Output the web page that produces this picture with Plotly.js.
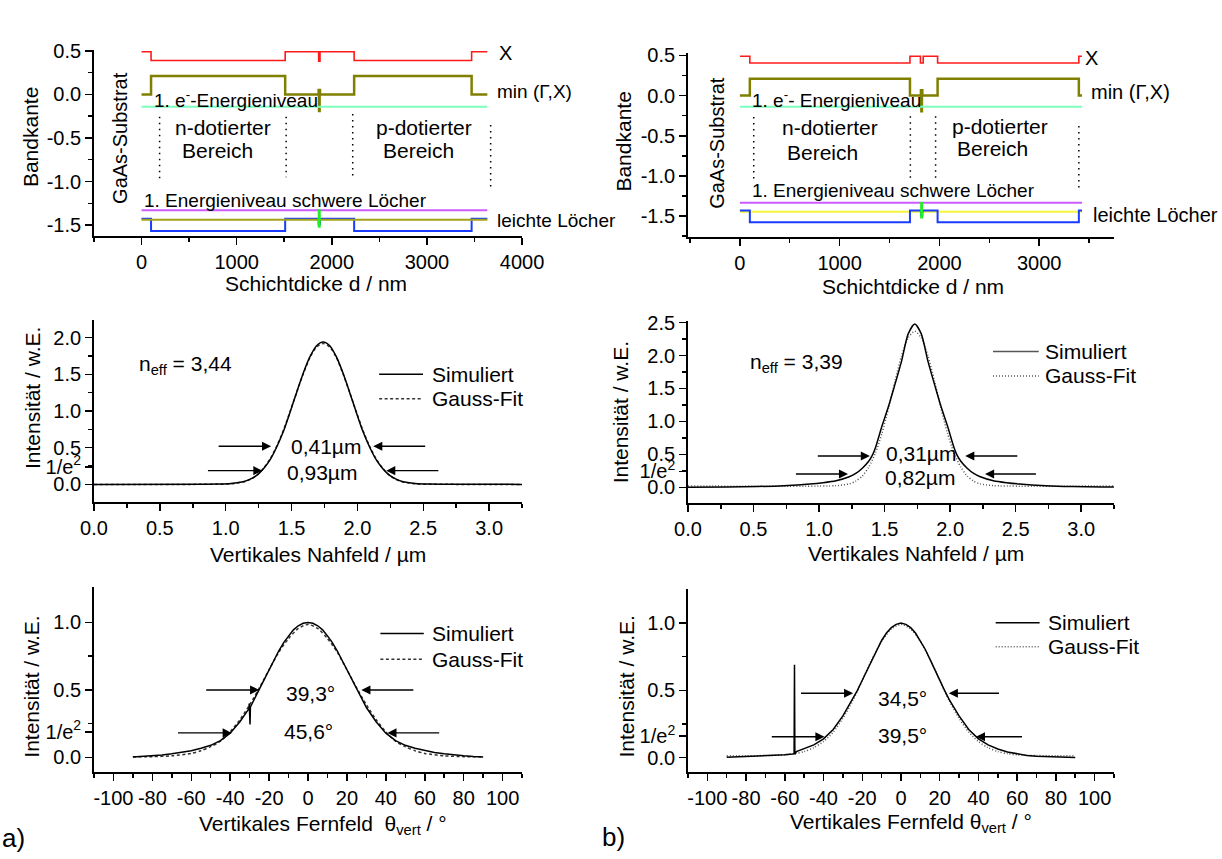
<!DOCTYPE html>
<html><head><meta charset="utf-8">
<script src="https://cdn.plot.ly/plotly-3.0.1.min.js"></script>
<style>html,body{margin:0;padding:0;background:#fff;}#chart{width:1222px;height:859px;}</style>
</head><body><div id="chart"></div>
<script>
// ================= DATA =================
// --- band diagram a) (top left) ---
const bandA_Xx   = [0, 100, 1510, 1862, 1876, 2235, 3470, 3635];
const bandA_X    = [0.49, 0.39, 0.49, 0.38, 0.49, 0.39, 0.49, 0.49];
const bandA_Minx = [0, 100, 1510, 1862, 1866, 1872, 1876, 2235, 3470, 3635];
const bandA_Min  = [0.0, 0.21, 0.0, 0.05, -0.19, 0.05, 0.0, 0.21, 0.0, 0.0];
const bandA_LevX = [0, 3635];
const bandA_e1   = [-0.142, -0.142];
const bandA_hh1  = [-1.33, -1.33];
const bandA_hh   = [-1.438, -1.438];
const bandA_Lhx  = [0, 100, 1510, 1862, 1876, 2235, 3470, 3635];
const bandA_Lh   = [-1.426, -1.568, -1.426, -1.49, -1.426, -1.568, -1.426, -1.426];
const bandA_QWx  = [1868, 1868];
const bandA_QW   = [-1.318, -1.53];
const bandA_divX = [190, 190, null, 1520, 1520, null, 2220, 2220, null, 3670, 3670];
const bandA_divY = [-0.257, -0.97, null, -0.257, -0.952, null, -0.226, -0.937, null, -0.352, -1.078];
// --- band diagram b) (top right) ---
const bandB_Xx   = [0, 100, 1705, 1810, 1838, 1982, 3398, 3430];
const bandB_X    = [0.489, 0.405, 0.489, 0.405, 0.489, 0.405, 0.489, 0.489];
const bandB_Minx = [0, 100, 1705, 1815, 1819, 1825, 1829, 1982, 3398, 3430];
const bandB_Min  = [0.0, 0.211, 0.0, 0.066, -0.195, 0.066, 0.0, 0.211, 0.0, 0.0];
const bandB_LevX = [0, 3430];
const bandB_e1   = [-0.140, -0.140];
const bandB_hh1  = [-1.335, -1.335];
const bandB_hh   = [-1.447, -1.447];
const bandB_Lhx  = [0, 100, 1705, 1815, 1829, 1982, 3398, 3430];
const bandB_Lh   = [-1.43, -1.575, -1.43, -1.49, -1.43, -1.575, -1.43, -1.43];
const bandB_QWx  = [1822, 1822];
const bandB_QW   = [-1.323, -1.53];
const bandB_divX = [139, 139, null, 1709, 1709, null, 1962, 1962, null, 3398, 3398];
const bandB_divY = [-0.265, -1.04, null, -0.257, -1.036, null, -0.257, -1.036, null, -0.38, -1.148];

// --- near field a) ---
const nfA_x   = [0, 0.8, 0.94, 1.04, 1.14, 1.19, 1.24, 1.29, 1.34, 1.39, 1.44, 1.49, 1.54, 1.59, 1.64, 1.69, 1.74, 1.79, 1.84, 1.89, 1.94, 1.99, 2.04, 2.09, 2.14, 2.19, 2.24, 2.29, 2.34, 2.44, 2.54, 2.7, 3.25];
const nfA_sim = [0, 0.001, 0.004, 0.012, 0.04, 0.075, 0.13, 0.22, 0.345, 0.52, 0.73, 0.99, 1.26, 1.52, 1.74, 1.89, 1.94, 1.89, 1.74, 1.52, 1.26, 0.99, 0.73, 0.52, 0.345, 0.22, 0.13, 0.075, 0.04, 0.012, 0.004, 0.001, 0];
const nfA_fitx = [0, 0.94, 1.04, 1.14, 1.19, 1.24, 1.29, 1.34, 1.39, 1.44, 1.49, 1.54, 1.59, 1.64, 1.69, 1.74, 1.79, 1.84, 1.89, 1.94, 1.99, 2.04, 2.09, 2.14, 2.19, 2.24, 2.29, 2.34, 2.44, 2.54, 3.25];
const nfA_fit  = [0, 0.002, 0.008, 0.036, 0.07, 0.13, 0.225, 0.355, 0.53, 0.745, 1.0, 1.26, 1.51, 1.73, 1.87, 1.92, 1.87, 1.73, 1.51, 1.26, 1.0, 0.745, 0.53, 0.355, 0.225, 0.13, 0.07, 0.036, 0.008, 0.002, 0];
// --- near field b) ---
const nfB_x   = [0, 0.3, 0.53, 0.73, 0.93, 1.03, 1.13, 1.23, 1.28, 1.33, 1.38, 1.41, 1.43, 1.48, 1.53, 1.57, 1.63, 1.68, 1.73, 1.78, 1.83, 1.89, 1.93, 1.98, 2.03, 2.05, 2.08, 2.13, 2.18, 2.23, 2.33, 2.43, 2.53, 2.73, 2.93, 3.16, 3.25];
const nfB_sim = [0, 0.005, 0.012, 0.025, 0.05, 0.07, 0.10, 0.16, 0.21, 0.29, 0.40, 0.50, 0.60, 0.93, 1.23, 1.5, 1.92, 2.33, 2.48, 2.33, 1.92, 1.5, 1.23, 0.93, 0.60, 0.50, 0.40, 0.29, 0.21, 0.16, 0.10, 0.07, 0.05, 0.025, 0.012, 0.005, 0.004];
const nfB_fitx = [0, 1.13, 1.23, 1.28, 1.33, 1.38, 1.43, 1.48, 1.53, 1.58, 1.63, 1.68, 1.73, 1.78, 1.83, 1.88, 1.93, 1.98, 2.03, 2.08, 2.13, 2.18, 2.23, 2.33, 3.25];
const nfB_fit  = [0.02, 0.025, 0.052, 0.093, 0.17, 0.31, 0.52, 0.82, 1.20, 1.62, 2.0, 2.27, 2.37, 2.27, 2.0, 1.62, 1.20, 0.82, 0.52, 0.31, 0.17, 0.093, 0.052, 0.025, 0.02];

// --- far field a) ---
const ffA_x   = [-90, -85, -80, -75, -70, -65, -60, -55, -50, -45, -40, -35, -30.4, -30.2, -29.8, -29.6, -27.5, -25, -22.5, -20, -17.5, -15, -12.5, -10, -7.5, -5, -2.5, 0, 2.5, 5, 7.5, 10, 12.5, 15, 17.5, 20, 22.5, 25, 27.5, 30, 35, 40, 45, 50, 55, 60, 65, 70, 75, 80, 85, 90];
const ffA_sim = [0.004, 0.007, 0.012, 0.018, 0.027, 0.037, 0.05, 0.068, 0.09, 0.125, 0.18, 0.265, 0.36, 0.40, 0.245, 0.375, 0.435, 0.50, 0.575, 0.65, 0.72, 0.79, 0.85, 0.90, 0.945, 0.975, 0.994, 1.0, 0.994, 0.975, 0.945, 0.90, 0.85, 0.79, 0.72, 0.65, 0.575, 0.50, 0.435, 0.37, 0.265, 0.18, 0.125, 0.09, 0.068, 0.05, 0.037, 0.027, 0.018, 0.012, 0.007, 0.004];
const ffA_fitx = [-90, -80, -70, -60, -55, -50, -45, -40, -35, -30, -25, -20, -15, -10, -5, 0, 5, 10, 15, 20, 25, 30, 35, 40, 45, 50, 55, 60, 70, 80, 90];
const ffA_fit  = [0.005, 0.006, 0.012, 0.03, 0.05, 0.08, 0.12, 0.19, 0.28, 0.39, 0.515, 0.65, 0.78, 0.88, 0.955, 0.985, 0.955, 0.88, 0.78, 0.65, 0.515, 0.39, 0.28, 0.19, 0.12, 0.08, 0.05, 0.03, 0.012, 0.006, 0.005];
// --- far field b) ---
const ffB_x   = [-90, -80, -70, -60, -56, -55.2, -55.0, -54.8, -54, -50, -45, -40, -35, -30, -27.5, -25, -22.5, -20, -17.5, -15, -12.5, -10, -7.5, -5, -2.5, 0, 2.5, 5, 7.5, 10, 12.5, 15, 17.5, 20, 22.5, 25, 27.5, 30, 35, 40, 45, 50, 55, 60, 65, 70, 80, 90];
const ffB_sim = [0.003, 0.008, 0.014, 0.022, 0.028, 0.03, 0.69, 0.025, 0.045, 0.065, 0.095, 0.14, 0.21, 0.31, 0.37, 0.43, 0.50, 0.575, 0.65, 0.73, 0.805, 0.87, 0.925, 0.965, 0.99, 1.0, 0.99, 0.965, 0.925, 0.87, 0.805, 0.73, 0.65, 0.575, 0.50, 0.43, 0.37, 0.31, 0.21, 0.14, 0.095, 0.065, 0.042, 0.027, 0.017, 0.01, 0.004, 0.002];
const ffB_fitx = [-90, -80, -70, -60, -55, -50, -45, -40, -35, -30, -25, -20, -15, -10, -5, 0, 5, 10, 15, 20, 25, 30, 35, 40, 45, 50, 55, 60, 70, 80, 90];
const ffB_fit  = [0.015, 0.015, 0.016, 0.021, 0.03, 0.045, 0.075, 0.12, 0.19, 0.293, 0.42, 0.574, 0.73, 0.863, 0.955, 0.99, 0.955, 0.863, 0.73, 0.574, 0.42, 0.293, 0.19, 0.12, 0.075, 0.045, 0.03, 0.021, 0.016, 0.015, 0.015];

// --- labels and ticks ---
const seriesNames = ['Simuliert', 'Gauss-Fit'];
const bandXTicksA = [0, 1000, 2000, 3000, 4000];
const bandXTicksB = [0, 1000, 2000, 3000];
const bandYTicks = [-1.5, -1.0, -0.5, 0.0, 0.5];
const bandYText  = ['-1.5', '-1.0', '-0.5', '0.0', '0.5'];
const nfXTicks = [0, 0.5, 1.0, 1.5, 2.0, 2.5, 3.0];
const nfXText  = ['0.0', '0.5', '1.0', '1.5', '2.0', '2.5', '3.0'];
const nfYTicksA = [0, 0.24, 0.5, 1.0, 1.5, 2.0];
const nfYTextA  = ['0.0', '1/e<sup>2</sup>', '0.5', '1.0', '1.5', '2.0'];
const nfYTicksB = [0, 0.24, 0.5, 1.0, 1.5, 2.0, 2.5];
const nfYTextB  = ['0.0', '1/e<sup>2</sup>', '0.5', '1.0', '1.5', '2.0', '2.5'];
const ffXTicks = [-100, -80, -60, -40, -20, 0, 20, 40, 60, 80, 100];
const ffXText  = ['-100', '-80', '-60', '-40', '-20', '0', '20', '40', '60', '80', '100'];
const ffYTicksA = [0, 0.19, 0.5, 1.0];
const ffYTicksB = [0, 0.16, 0.5, 1.0];
const ffYText   = ['0.0', '1/e<sup>2</sup>', '0.5', '1.0'];
const ffYMinor  = [0.25, 0.75];

// ================= STYLE HELPERS =================
const FONT = 'Liberation Sans, Arial, Helvetica, sans-serif';
function ax(o) {
  return Object.assign({
    showline: true, linecolor: '#000', linewidth: 1.8, ticks: 'outside', ticklen: 7, tickwidth: 1.5,
    tickcolor: '#000', showgrid: false, zeroline: false, automargin: false, fixedrange: true,
    tickmode: 'array', tickfont: {family: FONT, size: 20, color: '#000'}
  }, o);
}
function minorLin(t0, dt) { return {ticks: 'outside', ticklen: 4, tickwidth: 1.5, tickcolor: '#000', tick0: t0, dtick: dt, showgrid: false}; }
function minorArr(v) { return {ticks: 'outside', ticklen: 4, tickwidth: 1.5, tickcolor: '#000', tickmode: 'array', tickvals: v, showgrid: false}; }

function band(x, y, xa, ya, color, w, shape) {
  return {x: x, y: y, xaxis: xa, yaxis: ya, mode: 'lines', line: {color: color, width: w, shape: shape || 'hv'}, hoverinfo: 'skip', showlegend: false};
}
function curve(x, y, xa, ya, dash, color, sm, name) {
  return {x: x, y: y, xaxis: xa, yaxis: ya, mode: 'lines', name: name,
    line: {color: color, width: 1.5, dash: dash, shape: sm ? 'spline' : 'linear', smoothing: 0.7}, hoverinfo: 'skip', showlegend: false};
}

const traces = [
  // band a)
  band(bandA_Xx, bandA_X, 'x', 'y', '#ff1a1a', 1.6),
  band(bandA_Minx, bandA_Min, 'x', 'y', '#808000', 2.5),
  band(bandA_LevX, bandA_e1, 'x', 'y', '#7dffbe', 2),
  band(bandA_LevX, bandA_hh1, 'x', 'y', '#cc5cff', 2),
  band(bandA_Lhx, bandA_Lh, 'x', 'y', '#1a3cff', 2),
  band(bandA_LevX, bandA_hh, 'x', 'y', '#a3a31a', 2),
  band(bandA_QWx, bandA_QW, 'x', 'y', '#22ee22', 3, 'linear'),
  {x: bandA_divX, y: bandA_divY, xaxis: 'x', yaxis: 'y', mode: 'lines', line: {color: '#000', width: 1.5, dash: '1.5px,4.5px'}, hoverinfo: 'skip', showlegend: false},
  // band b)
  band(bandB_Xx, bandB_X, 'x2', 'y2', '#ff1a1a', 1.6),
  band(bandB_Minx, bandB_Min, 'x2', 'y2', '#808000', 2.5),
  band(bandB_LevX, bandB_e1, 'x2', 'y2', '#7dffbe', 2),
  band(bandB_LevX, bandB_hh1, 'x2', 'y2', '#cc5cff', 2),
  band(bandB_LevX, bandB_hh, 'x2', 'y2', '#f5f53a', 2),
  band(bandB_Lhx, bandB_Lh, 'x2', 'y2', '#1a3cff', 2),
  band(bandB_QWx, bandB_QW, 'x2', 'y2', '#22ee22', 3, 'linear'),
  {x: bandB_divX, y: bandB_divY, xaxis: 'x2', yaxis: 'y2', mode: 'lines', line: {color: '#000', width: 1.5, dash: '1.5px,4.5px'}, hoverinfo: 'skip', showlegend: false},
  // near field
  curve(nfA_fitx, nfA_fit, 'x3', 'y3', '3px,2.5px', '#333', true, seriesNames[1]),
  curve(nfA_x, nfA_sim, 'x3', 'y3', 'solid', '#000', true, seriesNames[0]),
  curve(nfB_fitx, nfB_fit, 'x4', 'y4', '1px,2px', '#555', true, seriesNames[1]),
  curve(nfB_x, nfB_sim, 'x4', 'y4', 'solid', '#000', true, seriesNames[0]),
  // far field
  curve(ffA_fitx, ffA_fit, 'x5', 'y5', '3px,2.5px', '#333', true, seriesNames[1]),
  curve(ffA_x, ffA_sim, 'x5', 'y5', 'solid', '#000', false, seriesNames[0]),
  curve(ffB_fitx, ffB_fit, 'x6', 'y6', '1px,2px', '#555', true, seriesNames[1]),
  curve(ffB_x, ffB_sim, 'x6', 'y6', 'solid', '#000', false, seriesNames[0])
];

// ================= ANNOTATIONS =================
const ann = [];
function T(xr, yr, x, y, text, o) {
  ann.push(Object.assign({xref: xr, yref: yr, x: x, y: y, text: text, showarrow: false, xanchor: 'center', yanchor: 'middle',
    font: {family: FONT, size: 21, color: '#000'}}, o || {}));
}
function A(xr, yr, tail, tip) {
  ann.push({xref: xr, yref: yr, axref: xr, ayref: yr, x: tip[0], y: tip[1], ax: tail[0], ay: tail[1], text: '',
    showarrow: true, arrowhead: 2, arrowsize: 1.3, arrowwidth: 1.4, arrowcolor: '#000', standoff: 0, startstandoff: 0});
}
const small = {font: {family: FONT, size: 19, color: '#000'}};
const mid = {font: {family: FONT, size: 20, color: '#000'}};
// band a) texts
T('x', 'y', 2215, 0.92, 'Aktive Zone');
T('x', 'y', 2128, 0.654, 'InGaAs Quantum Well');
T('x', 'y', 3823, 0.47, 'X', mid);
T('x', 'y', 3718, 0.03, 'min (Γ,X)', Object.assign({xanchor: 'left'}, small));
T('x', 'y', 109, -0.057, '1. e<sup>-</sup>-Energieniveau', Object.assign({xanchor: 'left'}, small));
T('x', 'y', 861, -0.378, 'n-dotierter');
T('x', 'y', 794, -0.647, 'Bereich');
T('x', 'y', 2974, -0.378, 'p-dotierter');
T('x', 'y', 2910, -0.647, 'Bereich');
T('x', 'y', -221, -0.505, 'GaAs-Substrat', Object.assign({textangle: -90}, mid));
T('x', 'y', 7, -1.22, '1. Energieniveau schwere Löcher', Object.assign({xanchor: 'left'}, small));
T('x', 'y', 3711, -1.45, 'leichte Löcher', Object.assign({xanchor: 'left'}, small));
// band b) texts
T('x2', 'y2', 1994, 0.945, 'Aktive Zone');
T('x2', 'y2', 1994, 0.675, 'InGaAs Quantum Well');
T('x2', 'y2', 3528, 0.469, 'X', mid);
T('x2', 'y2', 3501, 0.041, 'min (Γ,X)', Object.assign({xanchor: 'left'}, mid));
T('x2', 'y2', 99, -0.041, '1. e<sup>-</sup>- Energieniveau', Object.assign({xanchor: 'left'}, small));
T('x2', 'y2', 904, -0.40, 'n-dotierter');
T('x2', 'y2', 832, -0.713, 'Bereich');
T('x2', 'y2', 2608, -0.38, 'p-dotierter');
T('x2', 'y2', 2537, -0.663, 'Bereich');
T('x2', 'y2', -229, -0.588, 'GaAs-Substrat', Object.assign({textangle: -90}, mid));
T('x2', 'y2', 99, -1.178, '1. Energieniveau schwere Löcher', Object.assign({xanchor: 'left'}, small));
T('x2', 'y2', 3516, -1.48, 'leichte Löcher', Object.assign({xanchor: 'left'}, mid));
// axis titles (paper)
T('paper', 'paper', 0.0249, 0.8409, 'Bandkante', {textangle: -90});
T('paper', 'paper', 0.2586, 0.6705, 'Schichtdicke d / nm');
T('paper', 'paper', 0.5105, 0.835, 'Bandkante', {textangle: -90});
T('paper', 'paper', 0.7475, 0.667, 'Schichtdicke d / nm');
T('paper', 'paper', 0.0262, 0.5366, 'Intensität / w.E.', {textangle: -90});
T('paper', 'paper', 0.2601, 0.3539, 'Vertikales Nahfeld / µm');
T('paper', 'paper', 0.5085, 0.5204, 'Intensität / w.E.', {textangle: -90});
T('paper', 'paper', 0.7492, 0.3559, 'Vertikales Nahfeld / µm');
T('paper', 'paper', 0.0262, 0.2006, 'Intensität / w.E.', {textangle: -90});
T('paper', 'paper', 0.2645, 0.0396, 'Vertikales Fernfeld  θ<sub>vert</sub> / °');
T('paper', 'paper', 0.5130, 0.2006, 'Intensität / w.E.', {textangle: -90});
T('paper', 'paper', 0.7459, 0.0416, 'Vertikales Fernfeld θ<sub>vert</sub> / °');
T('paper', 'paper', 0.0, 0.0241, 'a)', {xanchor: 'left', font: {family: FONT, size: 26, color: '#000'}});
T('paper', 'paper', 0.491, 0.026, 'b)', {xanchor: 'left', font: {family: FONT, size: 26, color: '#000'}});
// near field a)
T('x3', 'y3', 0.33, 1.62, 'n<sub>eff</sub> = 3,44', {xanchor: 'left'});
T('x3', 'y3', 1.761, 0.52, '0,41µm');
T('x3', 'y3', 1.734, 0.16, '0,93µm');
A('x3', 'y3', [0.935, 0.52], [1.345, 0.52]);
A('x3', 'y3', [2.526, 0.52], [2.12, 0.52]);
A('x3', 'y3', [0.854, 0.187], [1.279, 0.187]);
A('x3', 'y3', [2.626, 0.187], [2.219, 0.187]);
T('x3', 'y3', 2.553, 1.50, seriesNames[0], {xanchor: 'left'});
T('x3', 'y3', 2.553, 1.168, seriesNames[1], {xanchor: 'left'});
// near field b)
T('x4', 'y4', 0.455, 1.88, 'n<sub>eff</sub> = 3,39', {xanchor: 'left'});
T('x4', 'y4', 1.776, 0.506, '0,31µm');
T('x4', 'y4', 1.767, 0.152, '0,82µm');
A('x4', 'y4', [0.979, 0.475], [1.388, 0.475]);
A('x4', 'y4', [2.524, 0.475], [2.115, 0.475]);
A('x4', 'y4', [0.812, 0.202], [1.221, 0.202]);
A('x4', 'y4', [2.666, 0.202], [2.266, 0.202]);
T('x4', 'y4', 2.71, 2.06, seriesNames[0], {xanchor: 'left'});
T('x4', 'y4', 2.71, 1.69, seriesNames[1], {xanchor: 'left'});
// far field a)
T('x5', 'y5', 1.1, 0.474, '39,3°');
T('x5', 'y5', 0.5, 0.19, '45,6°');
A('x5', 'y5', [-53.1, 0.5], [-25.1, 0.5]);
A('x5', 'y5', [54.9, 0.5], [27.4, 0.5]);
A('x5', 'y5', [-67.6, 0.182], [-39.2, 0.182]);
A('x5', 'y5', [68.2, 0.182], [40.8, 0.182]);
T('x5', 'y5', 62.8, 0.918, seriesNames[0], {xanchor: 'left'});
T('x5', 'y5', 62.8, 0.728, seriesNames[1], {xanchor: 'left'});
// far field b)
T('x6', 'y6', 1.0, 0.44, '34,5°');
T('x6', 'y6', 1.0, 0.168, '39,5°');
A('x6', 'y6', [-52.4, 0.478], [-24.7, 0.478]);
A('x6', 'y6', [51.4, 0.478], [24.7, 0.478]);
A('x6', 'y6', [-67.5, 0.156], [-39.5, 0.156]);
A('x6', 'y6', [63.3, 0.156], [38.7, 0.156]);
T('x6', 'y6', 75.0, 1.002, seriesNames[0], {xanchor: 'left'});
T('x6', 'y6', 75.0, 0.824, seriesNames[1], {xanchor: 'left'});

// legend sample lines
const shapes = [];
function L(xr, yr, x0, x1, y, dash, color) {
  shapes.push({type: 'line', xref: xr, yref: yr, x0: x0, x1: x1, y0: y, y1: y, line: {color: color, width: 1.5, dash: dash}});
}
L('x3', 'y3', 2.165, 2.498, 1.50, 'solid', '#000');
L('x3', 'y3', 2.165, 2.498, 1.168, '3px,2.5px', '#333');
L('x4', 'y4', 2.327, 2.676, 2.06, 'solid', '#555');
L('x4', 'y4', 2.327, 2.676, 1.69, '1px,2px', '#555');
L('x5', 'y5', 37.2, 59.5, 0.918, 'solid', '#000');
L('x5', 'y5', 37.2, 59.5, 0.728, '3px,2.5px', '#333');
L('x6', 'y6', 48.9, 71.6, 1.002, 'solid', '#000');
L('x6', 'y6', 48.9, 71.6, 0.824, '1px,2px', '#555');

// ================= LAYOUT =================
const colA = [0.0769, 0.4272], colB = [0.5630, 0.9116];
const layout = {
  width: 1222, height: 859, margin: {l: 0, r: 0, t: 0, b: 0},
  paper_bgcolor: '#fff', plot_bgcolor: 'rgba(0,0,0,0)', showlegend: false,
  font: {family: FONT, size: 20, color: '#000'},
  xaxis:  ax({domain: colA, anchor: 'y',  range: [-500, 4000], tickvals: bandXTicksA, ticktext: bandXTicksA.map(String), minor: minorLin(-500, 500)}),
  yaxis:  ax({domain: [0.7253, 0.9418], anchor: 'x', range: [-1.625, 0.51], tickvals: bandYTicks, ticktext: bandYText, minor: minorLin(0, 0.25)}),
  xaxis2: ax({domain: colB, anchor: 'y2', range: [-520, 3750], tickvals: bandXTicksB, ticktext: bandXTicksB.map(String), minor: minorLin(-500, 500)}),
  yaxis2: ax({domain: [0.7241, 0.9383], anchor: 'x2', range: [-1.76, 0.53], tickvals: bandYTicks, ticktext: bandYText, minor: minorLin(0, 0.25)}),
  xaxis3: ax({domain: colA, anchor: 'y3', range: [0, 3.25], tickvals: nfXTicks, ticktext: nfXText, minor: minorLin(0, 0.25)}),
  yaxis3: ax({domain: [0.4156, 0.6275], anchor: 'x3', range: [-0.24, 2.24], tickvals: nfYTicksA, ticktext: nfYTextA, minor: minorLin(0, 0.25)}),
  xaxis4: ax({domain: colB, anchor: 'y4', range: [0, 3.25], tickvals: nfXTicks, ticktext: nfXText, minor: minorLin(0, 0.25)}),
  yaxis4: ax({domain: [0.4141, 0.6267], anchor: 'x4', range: [-0.243, 2.53], tickvals: nfYTicksB, ticktext: nfYTextB, minor: minorLin(0, 0.25)}),
  xaxis5: ax({domain: colA, anchor: 'y5', range: [-110, 110], tickvals: ffXTicks, ticktext: ffXText, minor: minorLin(0, 10)}),
  yaxis5: ax({domain: [0.1009, 0.3163], anchor: 'x5', range: [-0.11, 1.26], tickvals: ffYTicksA, ticktext: ffYText, minor: minorArr(ffYMinor)}),
  xaxis6: ax({domain: colB, anchor: 'y6', range: [-110, 110], tickvals: ffXTicks, ticktext: ffXText, minor: minorLin(0, 10)}),
  yaxis6: ax({domain: [0.1016, 0.3140], anchor: 'x6', range: [-0.104, 1.25], tickvals: ffYTicksB, ticktext: ffYText, minor: minorArr(ffYMinor)}),
  annotations: ann,
  shapes: shapes
};

Plotly.newPlot('chart', traces, layout, {staticPlot: true, displayModeBar: false});
</script>
</body></html>
